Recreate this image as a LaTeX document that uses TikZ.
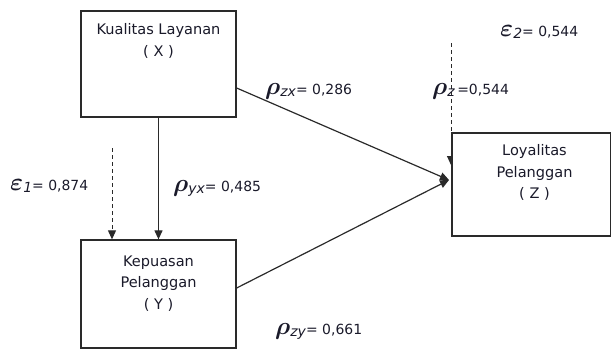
\documentclass[tikz,border=0pt]{standalone}
\usepackage{amsmath}
\usepackage{fontspec}
\setmainfont{DejaVu Sans}
\usetikzlibrary{arrows.meta}
\definecolor{linec}{HTML}{2A2A2A}
\definecolor{txtc}{HTML}{1A1A2A}
\newcommand{\grk}[2]{{\fontsize{#1}{#1}\selectfont$\boldsymbol{#2}$}}
\begin{document}
\begin{tikzpicture}[x=1bp,y=-1bp,
  boxnode/.style={draw=linec,line width=1.3bp,fill=white,inner sep=0pt},
  boxtext/.style={anchor=north,align=center,font=\fontsize{14.6}{21.5}\selectfont,text=txtc,inner sep=0pt},
  conn/.style={draw=linec,line width=1.2bp},
  dashline/.style={draw=linec,line width=1bp,dash pattern=on 4bp off 3bp},
  tip/.style={-{Triangle[length=9bp,width=8bp]}},
  coef/.style={inner sep=0pt,anchor=base west,font=\fontsize{14}{16}\selectfont,text=txtc}]
\useasboundingbox (0,0) rectangle (611,349);
% boxes
\node[boxnode,minimum width=155bp,minimum height=106bp] (X) at (158.5,64) {};
\node[boxnode,minimum width=155bp,minimum height=108bp] (Y) at (158.5,294) {};
\coordinate (ztip) at (451,165);
\coordinate (ztop) at (451,43);
\coordinate (e1top) at (112,148);
\draw[dashline,tip] (ztop) -- (ztip);
\node[boxnode,minimum width=159bp,minimum height=103bp] (Z) at (531.5,184.5) {};
\node[boxtext] (Xt) at ([yshift=-13bp]X.north) {Kualitas Layanan\\( X )};
\node[boxtext] (Yt) at ([yshift=-16bp]Y.north) {Kepuasan\\Pelanggan\\( Y )};
\node[boxtext] (Zt) at ([xshift=3bp,yshift=-12bp]Z.north) {Loyalitas\\Pelanggan\\( Z )};
% connectors
\coordinate (Zin) at (449,180);
\draw[conn,tip] (X.south) -- (Y.north);
\draw[dashline,tip] (e1top) -- (e1top |- Y.north);
\draw[conn,tip] ([yshift=-24bp]X.east) -- (Zin);
\draw[conn,tip] ([yshift=6bp]Y.east) -- (Zin);
% labels
\node[coef] (e2) at (500,36) {\grk{24}{\varepsilon}\raisebox{-2bp}{\textit{2}}= 0,544};
\node[coef] (pz) at (432,94) {\grk{26}{\rho}\raisebox{-2bp}{\textit{z}}\,=0,544};
\node[coef] (pzx) at (265,94) {\grk{26}{\rho}\raisebox{-2bp}{\textit{zx}}= 0,286};
\node[coef] (e1) at (10,190) {\grk{24}{\varepsilon}\raisebox{-2bp}{\textit{1}}= 0,874};
\node[coef] (pyx) at (173,191) {\grk{26}{\rho}\raisebox{-2bp}{\textit{yx}}= 0,485};
\node[coef] (pzy) at (275,334) {\grk{26}{\rho}\raisebox{-2bp}{\textit{zy}}= 0,661};
\end{tikzpicture}
\end{document}
